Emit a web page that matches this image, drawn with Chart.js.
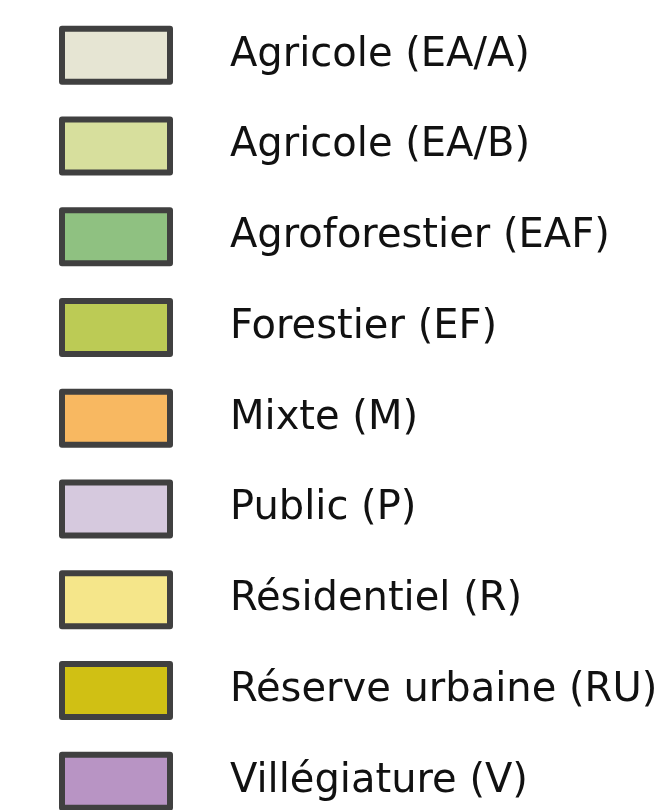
<!DOCTYPE html>
<html>
<head>
<meta charset="utf-8">
<script src="https://cdn.jsdelivr.net/npm/chart.js@4/dist/chart.umd.min.js"></script>
<style>
  html, body { margin: 0; padding: 0; background: #ffffff; overflow: hidden; width: 661px; height: 810px; }
  #wrap { position: absolute; left: 0; top: -9px; width: 661px; height: 920px; }
</style>
</head>
<body>
<div id="wrap"><canvas id="c"></canvas></div>
<script>
const categories = [
  "Agricole (EA/A)",
  "Agricole (EA/B)",
  "Agroforestier (EAF)",
  "Forestier (EF)",
  "Mixte (M)",
  "Public (P)",
  "Résidentiel (R)",
  "Réserve urbaine (RU)",
  "Villégiature (V)"
];
const fillColors = [
  "#E6E5D3",
  "#D7DF9D",
  "#8FC181",
  "#BCCB55",
  "#F8B861",
  "#D6C9DE",
  "#F5E68A",
  "#D0C014",
  "#B894C4"
];
const borderColor = "#404040";

const datasets = categories.map((name, i) => ({
  label: name,
  data: [],
  backgroundColor: fillColors[i],
  borderColor: borderColor,
  borderWidth: 6
}));

new Chart(document.getElementById('c'), {
  type: 'bar',
  data: { labels: [], datasets: datasets },
  options: {
    responsive: true,
    maintainAspectRatio: false,
    animation: false,
    events: [],
    layout: { padding: { left: 24.25, top: 0, right: 0, bottom: 0 } },
    scales: {
      x: { display: false },
      y: { display: false }
    },
    plugins: {
      tooltip: { enabled: false },
      legend: {
        display: true,
        position: 'left',
        align: 'start',
        maxWidth: 661,
        labels: {
          boxWidth: 108,
          boxHeight: 53,
          padding: 37.75,
          color: '#111111',
          font: { family: "'DejaVu Sans', sans-serif", size: 40, weight: 'normal' },
          generateLabels: (chart) => chart.data.datasets.map((ds, i) => ({
            text: '\u2003' + ds.label,
            fillStyle: ds.backgroundColor,
            strokeStyle: ds.borderColor,
            lineWidth: ds.borderWidth,
            lineJoin: 'round',
            hidden: false,
            datasetIndex: i,
            fontColor: '#111111'
          }))
        }
      }
    }
  }
});
</script>
</body>
</html>
